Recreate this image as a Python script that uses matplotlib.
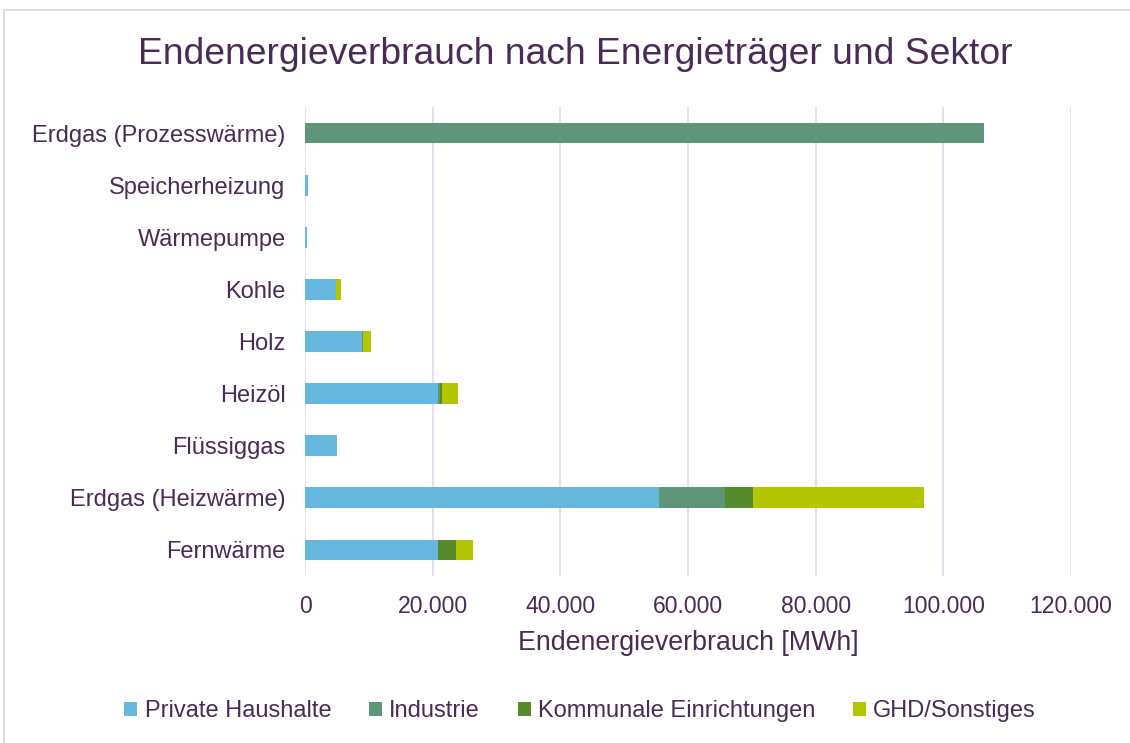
import numpy as np
import matplotlib.pyplot as plt
from matplotlib.patches import Rectangle

plt.rcParams['font.family'] = ['Liberation Sans', 'DejaVu Sans']

TEXT = '#4a2a56'
GRID = '#e8dcef'

categories = ['Fernwärme', 'Erdgas (Heizwärme)', 'Flüssiggas', 'Heizöl', 'Holz',
              'Kohle', 'Wärmepumpe', 'Speicherheizung', 'Erdgas (Prozesswärme)']
private = [20900, 55400, 5000, 20800, 8900, 4900, 300, 400, 0]
industrie = [0, 10400, 0, 300, 200, 0, 0, 0, 106400]
kommunal = [2700, 4400, 0, 300, 0, 0, 0, 0, 0]
ghd = [2700, 26700, 0, 2600, 1200, 700, 0, 0, 0]

series = [('Private Haushalte', private, '#66b8de'),
          ('Industrie', industrie, '#5f967a'),
          ('Kommunale Einrichtungen', kommunal, '#578a2c'),
          ('GHD/Sonstiges', ghd, '#b3c600')]

fig = plt.figure(figsize=(11.3, 7.43), dpi=100)
ax = fig.add_axes([305/1130, 1-576/743, (1071-305)/1130, (576-107)/743])

y = np.arange(len(categories))
left = np.zeros(len(categories))
for name, vals, col in series:
    ax.barh(y, vals, left=left, height=0.4, color=col, label=name, zorder=3)
    left += np.array(vals)

ax.set_xlim(0, 120000)
ax.set_ylim(-0.5, len(categories) - 0.5)
ax.set_yticks(y)
ax.set_yticklabels(categories)
ticks = np.arange(0, 120001, 20000)
ax.set_xticks(ticks)
ax.set_xticklabels([f'{t:,}'.replace(',', '.') for t in ticks])
ax.tick_params(length=0, labelsize=16.6, colors=TEXT)
ax.tick_params(axis='x', pad=14)
ax.tick_params(axis='y', pad=14, labelsize=17)
ax.grid(axis='x', color=GRID, linewidth=1.5, zorder=0)
for s in ax.spines.values():
    s.set_visible(False)
ax.set_xlabel('Endenergieverbrauch [MWh]', fontsize=19.3, color=TEXT, labelpad=8)

fig.text(575/1130, 1-54/743, 'Endenergieverbrauch nach Energieträger und Sektor',
         ha='center', va='center', fontsize=26.8, color=TEXT)

leg = fig.legend(loc='center', bbox_to_anchor=(580/1130, 1-711/743), ncol=4,
                 frameon=False, fontsize=17, handlelength=0.55, handleheight=0.55,
                 handletextpad=0.3, columnspacing=1.6, labelcolor=TEXT)

fig.patches.append(Rectangle((4/1130, -0.01), 1.02, 1-10/743 + 0.01,
                             transform=fig.transFigure, fill=False,
                             edgecolor='#d9d9d9', linewidth=1.2))

fig.savefig('out.png', dpi=100)
